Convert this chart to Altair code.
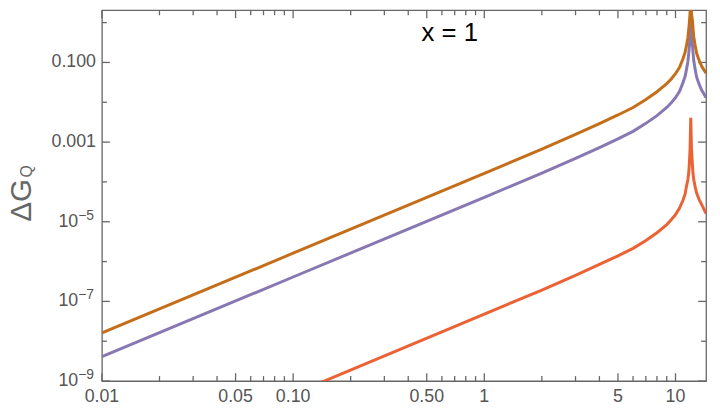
import altair as alt
import pandas as pd

# ---- data (log-log) ----
x_vals = [0.01, 0.1, 1, 2, 3, 4, 5, 6, 7, 8, 9, 9.5, 10, 10.5, 10.93, 11.23, 11.42,
          11.60, 11.74, 11.83, 11.92, 12.02, 12.12, 12.27, 12.35, 12.46, 12.68,
          12.91, 13.30, 13.71, 14.0, 14.45]
orange_vals = [1.62e-8, 1.62e-6, 1.63e-4, 6.67e-4, 1.56e-3, 2.92e-3, 4.8e-3, 7.4e-3,
               1.17e-2, 1.84e-2, 2.95e-2, 3.85e-2, 5.2e-2, 7.5e-2, 0.122, 0.18, 0.27,
               0.41, 0.70, 1.09, 1.72, 14.0, 1.72, 1.09, 0.70, 0.438, 0.263, 0.167,
               0.112, 7.96e-2, 6.8e-2, 5.34e-2]
purple_vals = [4.1e-9, 4.1e-7, 4.1e-5, 1.67e-4, 3.9e-4, 7.3e-4, 1.2e-3, 1.86e-3,
               2.95e-3, 4.6e-3, 7.4e-3, 9.7e-3, 1.3e-2, 1.88e-2, 3.06e-2, 4.5e-2,
               6.8e-2, 0.103, 0.176, 0.27, 0.43, 3.5, 0.43, 0.27, 0.176, 0.11, 6.6e-2,
               4.2e-2, 2.8e-2, 2.0e-2, 1.7e-2, 1.3e-2]
red_vals = [4.7e-12, 4.7e-10, 4.8e-8, 1.93e-7, 4.5e-7, 8.5e-7, 1.39e-6, 2.15e-6,
            3.4e-6, 5.3e-6, 8.5e-6, 1.12e-5, 1.51e-5, 2.2e-5, 3.4e-5, 5.0e-5, 7.9e-5,
            1.12e-4, 1.8e-4, 3.2e-4, 7.1e-4, 4.1e-3, 7.1e-4, 2.5e-4, 1.6e-4, 1.15e-4,
            7.4e-5, 5.2e-5, 3.6e-5, 2.7e-5, 2.2e-5, 1.6e-5]

series_order = ["red", "purple", "orange"]
series_colors = ["#EB6235", "#8778B3", "#C56E1A"]

x_major = [0.01, 0.05, 0.1, 0.5, 1, 5, 10]
x_major_labels = ["0.01", "0.05", "0.10", "0.50", "1", "5", "10"]
x_minor = [0.02, 0.03, 0.04, 0.06, 0.07, 0.08, 0.09, 0.2, 0.3, 0.4, 0.6, 0.7, 0.8,
           0.9, 2, 3, 4, 6, 7, 8, 9]
y_major = [1e-9, 1e-7, 1e-5, 1e-3, 0.1]
y_minor = [1e-8, 1e-6, 1e-4, 1e-2, 1]
y_dec_vals = [1e-3, 0.1]
y_dec_labels = ["0.001", "0.100"]
y_pow_vals = [1e-9, 1e-7, 1e-5]
y_pow_exps = ["−9", "−7", "−5"]

annotation = "x = 1"
annotation_pos = (0.66, 0.35)
y_title_main = "ΔG"
y_title_sub = "Q"

# ---- build tables ----
rows = []
for name, vals in zip(["red", "purple", "orange"], [red_vals, purple_vals, orange_vals]):
    for xv, yv in zip(x_vals, vals):
        rows.append({"x": xv, "y": yv, "series": name})
df = pd.DataFrame(rows)

W, H = 611, 375
FONT = "Liberation Sans"
GRAY = "#666666"
LABEL_GRAY = "#555555"
MAJ, MIN = 8, 5

xscale = alt.Scale(type="log", domain=[0.01, 14.45], nice=False, zero=False)
yscale = alt.Scale(type="log", domain=[1e-9, 2.04], nice=False, zero=False)

layers = []

# x tick labels as text below the frame
xlab_df = pd.DataFrame({"v": x_major, "t": x_major_labels})
layers.append(
    alt.Chart(xlab_df).mark_text(font=FONT, fontSize=18, color=LABEL_GRAY,
                                 align="center", baseline="top")
    .encode(x=alt.X("v:Q", scale=xscale, axis=None), y=alt.value(H + 7), text="t:N")
)


# inward ticks on all four frame sides
def x_ticks(values, size):
    d = pd.DataFrame({"v": values})
    out = []
    for y0, y1 in [(H, H - size), (0, size)]:
        out.append(
            alt.Chart(d).mark_rule(color=GRAY, strokeWidth=1.3).encode(
                x=alt.X("v:Q", scale=xscale, axis=None),
                y=alt.value(y0), y2=alt.value(y1))
        )
    return out


def y_ticks(values, size):
    d = pd.DataFrame({"v": values})
    out = []
    for x0, x1 in [(0, size), (W, W - size)]:
        out.append(
            alt.Chart(d).mark_rule(color=GRAY, strokeWidth=1.3).encode(
                y=alt.Y("v:Q", scale=yscale, axis=None),
                x=alt.value(x0), x2=alt.value(x1))
        )
    return out


layers += x_ticks(x_major, MAJ) + x_ticks(x_minor, MIN)
layers += y_ticks(y_major, MAJ) + y_ticks(y_minor, MIN)

# y tick labels as text (with real superscript exponents)
dec_df = pd.DataFrame({"v": y_dec_vals, "t": y_dec_labels})
layers.append(
    alt.Chart(dec_df).mark_text(font=FONT, fontSize=18, color=LABEL_GRAY,
                                align="right", baseline="middle")
    .encode(y=alt.Y("v:Q", scale=yscale, axis=None), x=alt.value(-6), text="t:N")
)
pow_df = pd.DataFrame({"v": y_pow_vals, "e": y_pow_exps, "b": ["10"] * len(y_pow_vals)})
layers.append(
    alt.Chart(pow_df).mark_text(font=FONT, fontSize=18, color=LABEL_GRAY,
                                align="right", baseline="middle")
    .encode(y=alt.Y("v:Q", scale=yscale, axis=None), x=alt.value(-24), text="b:N")
)
layers.append(
    alt.Chart(pow_df).mark_text(font=FONT, fontSize=14, color=LABEL_GRAY,
                                align="left", baseline="middle", dy=-6)
    .encode(y=alt.Y("v:Q", scale=yscale, axis=None), x=alt.value(-24), text="e:N")
)

# curves (drawn red, purple, orange so orange is on top)
for name, col in zip(series_order, series_colors):
    layers.append(
        alt.Chart(df).transform_filter(alt.datum.series == name)
        .mark_line(color=col, strokeWidth=3, clip=True)
        .encode(
            x=alt.X("x:Q", scale=xscale, axis=None),
            y=alt.Y("y:Q", scale=yscale, axis=None),
        )
    )

# annotation "x = 1"
txt_df = pd.DataFrame({"x": [annotation_pos[0]], "y": [annotation_pos[1]], "t": [annotation]})
layers.append(
    alt.Chart(txt_df).mark_text(font=FONT, fontSize=26, color="black",
                                align="center", baseline="alphabetic")
    .encode(x=alt.X("x:Q", scale=xscale, axis=None),
            y=alt.Y("y:Q", scale=yscale, axis=None),
            text="t:N")
)

# y-axis title  ΔG_Q
title_df = pd.DataFrame({"a": [0]})
layers.append(
    alt.Chart(title_df).mark_text(font=FONT, fontSize=30, color=GRAY, angle=270,
                                  align="left", baseline="alphabetic")
    .encode(x=alt.value(-72), y=alt.value(214), text=alt.value(y_title_main))
)
layers.append(
    alt.Chart(title_df).mark_text(font=FONT, fontSize=16, color=GRAY, angle=270,
                                  align="left", baseline="alphabetic")
    .encode(x=alt.value(-71), y=alt.value(169), text=alt.value(y_title_sub))
)

chart = (
    alt.layer(*layers)
    .properties(width=W, height=H,
                autosize=alt.AutoSizeParams(type="none"),
                padding={"left": 95, "top": 0, "right": 6, "bottom": 30})
    .configure_view(stroke=GRAY, strokeWidth=1.3)
    .configure_axis(grid=False)
)

chart.save("out.html", embed_options={"renderer": "svg", "actions": False})
